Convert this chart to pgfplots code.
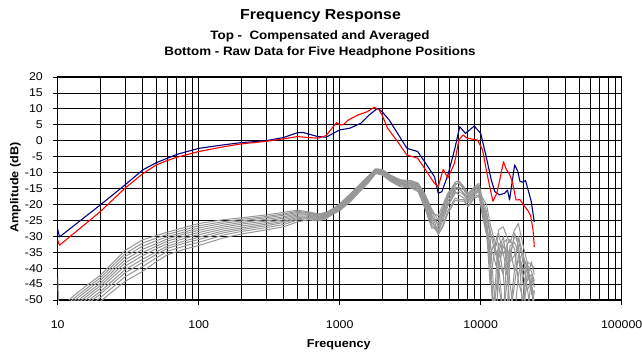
\documentclass[border=0pt]{standalone}
\usepackage{fontspec}
\setmainfont{Liberation Sans}[FakeStretch=1.1]
\usepackage{pgfplots}
\usepackage{pgfplotstable}
\pgfplotsset{compat=1.18}
\definecolor{navyline}{RGB}{0,0,128}
\definecolor{redline}{RGB}{255,0,0}
\definecolor{grayline}{RGB}{150,150,150}

\pgfplotstableread{
f c1 c2 c3 c4 c5 c6 c7 c8 c9 c10
10 nan nan nan nan nan nan nan nan nan -43
10.3 nan nan nan nan nan nan nan nan nan -57
12 -50 -50.8 -51.6 -52.4 -53.2 -54 -55 -55.8 -56.8 -58
14 -47.5 -48.4 -49.2 -50.1 -50.9 -51.8 -52.8 -53.6 -54.7 -56
16 -45.5 -46.4 -47.2 -48.1 -48.9 -49.8 -50.8 -51.6 -52.7 -54
18 -43.8 -44.6 -45.4 -46.3 -47.1 -47.9 -48.9 -49.7 -50.8 -52
20 -42.3 -43.1 -43.9 -44.8 -45.6 -46.4 -47.4 -48.2 -49.3 -50.5
25 -38 -38.9 -39.8 -40.7 -41.6 -42.5 -43.6 -44.5 -45.7 -47
30 -34.5 -35.5 -36.4 -37.4 -38.4 -39.4 -40.5 -41.5 -42.7 -44.2
40 -31.1 -32.1 -33.1 -34.1 -35.1 -36.1 -37.2 -38.2 -39.5 -41
50 -29.8 -30.6 -31.4 -32.3 -33.1 -33.9 -34.9 -35.7 -36.8 -38
60 -28.7 -29.4 -30.1 -30.8 -31.5 -32.3 -33.1 -33.8 -34.7 -35.8
80 -27.2 -27.9 -28.6 -29.2 -29.9 -30.6 -31.4 -32.1 -33 -34
100 -26 -26.7 -27.4 -28.1 -28.8 -29.5 -30.3 -31 -31.9 -32.9
150 -24.8 -25.4 -25.9 -26.5 -27.1 -27.7 -28.3 -28.9 -29.6 -30.5
200 -24.2 -24.7 -25.2 -25.7 -26.2 -26.8 -27.4 -27.9 -28.5 -29.3
300 -23.3 -23.8 -24.2 -24.7 -25.2 -25.7 -26.2 -26.7 -27.3 -28
400 -22.5 -23 -23.4 -23.9 -24.3 -24.8 -25.3 -25.7 -26.3 -27
500 -21.8 -22.2 -22.5 -22.9 -23.3 -23.7 -24.1 -24.5 -24.9 -25.5
600 -22.3 -22.6 -22.8 -23.1 -23.3 -23.6 -23.9 -24.1 -24.4 -24.8
700 -23 -23.2 -23.4 -23.7 -23.9 -24.1 -24.4 -24.6 -24.9 -25.2
800 -22.5 -22.7 -22.9 -23.1 -23.3 -23.5 -23.7 -23.9 -24.2 -24.5
900 -21.3 -21.5 -21.6 -21.8 -22 -22.2 -22.4 -22.5 -22.7 -23
1000 -19.8 -20 -20.2 -20.5 -20.7 -20.9 -21.2 -21.4 -21.7 -22
1200 -16.5 -16.8 -17 -17.3 -17.5 -17.8 -18.1 -18.3 -18.6 -19
1400 -13.5 -13.7 -14 -14.2 -14.4 -14.7 -14.9 -15.2 -15.5 -15.8
1600 -11 -11.2 -11.4 -11.7 -11.9 -12.1 -12.4 -12.6 -12.9 -13.2
1800 -8.8 -9 -9.1 -9.3 -9.4 -9.6 -9.7 -9.9 -10.1 -10.3
2000 -9 -9.2 -9.4 -9.5 -9.7 -9.9 -10.1 -10.3 -10.5 -10.8
2300 -10.8 -11 -11.2 -11.4 -11.6 -11.8 -12 -12.2 -12.5 -12.8
2700 -12.3 -12.5 -12.7 -13 -13.2 -13.4 -13.7 -13.9 -14.2 -14.5
3200 -12.5 -12.7 -13 -13.2 -13.4 -13.7 -13.9 -14.2 -14.5 -14.8
3600 -13.3 -13.6 -13.8 -14.1 -14.4 -14.7 -15 -15.2 -15.6 -16
4000 -16.5 -17 -17.4 -17.9 -18.3 -18.8 -19.3 -19.7 -20.3 -21
4500 -21.5 -22.1 -22.7 -23.3 -23.9 -24.5 -25.2 -25.8 -26.6 -27.5
5000 -25 -27 -23.5 -28.5 -26 -29.5 -24.5 -28 -29 -27
5400 -21 -23 -20 -25 -22 -27 -21.5 -24 -26.5 -23
5850 -17 -19 -16.5 -20.5 -18 -22.9 -17.5 -20 -22 -19
6600 -13 -15 -13.5 -16.5 -14.5 -18.7 -14 -16 -18 -15.5
7000 -12.6 -14.5 -13.5 -16 -15 -19 -13 -17 -18.5 -15
7600 -14.5 -15.5 -15 -17 -16.5 -19 -15 -18 -18.5 -16.5
8150 -16.5 -17.5 -17 -19 -18 -20.8 -17 -19.5 -20.5 -18.5
9000 -14.5 -15.5 -15 -16.5 -16 -18 -15 -17 -17.5 -16.5
9700 -13.4 -14.5 -14 -15.5 -15 -17.5 -14 -16 -17 -15.5
10200 -17.6 -18.2 -19 -19.5 -20 -20.5 -21 -21.5 -22.2 -22.9
11000 -20 -22 -25 -23 -27 -24 -28 -26 -29 -29.5
11650 -26 -30 -35 -28 -40 -29 -45 -33 -38 -36
12300 -30 -45 -55 -33 -55 -31 -37 -36 -50 -33
13000 -33 -55 -38 -37 -45 -36 -30 -40 -55 -35
13400 -28 -40 -32 -39 -35 -33 -29 -45 -37 -38
14450 -27 -33 -35 -55 -30 -42 -36 -55 -32 -42
15300 -30 -35 -42 -45 -38 -55 -33 -36 -31 -34
16140 -32 -55 -36 -33 -55 -37 -31 -34 -45 -38
17400 -28 -45 -30 -32 -40 -29 -34 -41 -55 -36
18500 -26 -36 -31 -35 -30 -33 -44 -38 -42 -33
20000 -33 -40 -38 -42 -36 -55 -50 -35 -37 -45
21330 -38 -44 -41 -47 -40 -43 -38 -46 -39 -55
22930 -39 -42 -46 -44 -48 -38 -46 -55 -41 -43
24000 -40 -45 -48 -55 -50 -42 -55 -47 -44 -46
}\graytable

\begin{document}
\begin{tikzpicture}
\useasboundingbox (-57.7bp,-56bp) rectangle (584.3bp,300bp);
\begin{axis}[
  at={(0,0)}, anchor=south west,
  scale only axis, width=564bp, height=223bp,
  xmode=log, xmin=10, xmax=100000, ymin=-50, ymax=20,
  xtick={10,100,1000,10000,100000},
  xticklabels={10,100,1000,10000,100000},
  minor xtick={20,30,40,50,60,70,80,90,200,300,400,500,600,700,800,900,2000,3000,4000,5000,6000,7000,8000,9000,20000,30000,40000,50000,60000,70000,80000,90000},
  ytick={-50,-45,...,20},
  grid=both,
  major grid style={black, line width=0.8bp},
  minor grid style={black, line width=0.8bp},
  axis line style={black, line width=1.3bp},
  tick align=outside, major tick length=5bp, minor tick length=0pt,
  tick style={black, line width=0.8bp},
  xtick pos=bottom, ytick pos=left,
  ticklabel style={font=\fontsize{11.3}{13}\selectfont},
  xticklabel style={anchor=base, inner sep=0pt, yshift=-23.3bp},
  yticklabel style={anchor=east, inner sep=0pt, xshift=-9.7bp},
  /pgf/number format/assume math mode=true,
  unbounded coords=jump,
  every axis plot/.append style={line join=round},
]
\addplot[grayline, line width=1bp] table[x=f, y=c1] {\graytable};
\addplot[grayline, line width=1bp] table[x=f, y=c2] {\graytable};
\addplot[grayline, line width=1bp] table[x=f, y=c3] {\graytable};
\addplot[grayline, line width=1bp] table[x=f, y=c4] {\graytable};
\addplot[grayline, line width=1bp] table[x=f, y=c5] {\graytable};
\addplot[grayline, line width=1bp] table[x=f, y=c6] {\graytable};
\addplot[grayline, line width=1bp] table[x=f, y=c7] {\graytable};
\addplot[grayline, line width=1bp] table[x=f, y=c8] {\graytable};
\addplot[grayline, line width=1bp] table[x=f, y=c9] {\graytable};
\addplot[grayline, line width=1bp] table[x=f, y=c10] {\graytable};

\addplot[navyline, line width=1.1bp] coordinates {
(10,-27.8) (10.3,-30.2) (20,-20.2) (30,-13.9) (40,-9.2) (50,-6.9) (60,-5.5) (70,-4.3)
(100,-2.4) (150,-1.3) (200,-0.6) (300,0) (400,1) (500,2.5) (550,2.6) (600,2.1)
(700,1.3) (800,1.1) (900,2.3) (1000,3.4) (1175,3.9) (1413,5.5) (1620,8.1) (1857,10.2)
(2000,9.1) (2245,6.5) (2575,2.3) (3000,-2.4) (3573,-3.4) (4000,-6.6) (4700,-11.3)
(5000,-16.5) (5300,-16) (5850,-10.8) (6520,-2.9) (7100,4.4) (7800,2.3) (9000,4.6)
(10000,2.3) (10940,-5) (11880,-12.3) (12600,-16) (13600,-17) (14760,-16.5) (15500,-15.5)
(16020,-18.6) (16700,-13) (17400,-7.6) (18300,-9.5) (19000,-12.8) (20000,-13)
(20800,-12.5) (21700,-15.5) (22800,-19) (24000,-25.5)
};
\addplot[redline, line width=1.1bp] coordinates {
(10,-31.2) (10.3,-32.8) (20,-22.3) (30,-14.9) (40,-10.4) (50,-7.6) (60,-6.2) (70,-5.2)
(100,-3.4) (150,-1.9) (200,-1.0) (300,-0.2) (400,0.6) (500,1.3) (600,1.0) (700,0.8)
(800,1.6) (900,4.4) (950,5.7) (1000,5.0) (1060,5.0) (1150,6.5) (1350,8.1) (1567,9.1)
(1757,10.5) (1900,9.7) (2000,8) (2188,3.9) (2575,-0.3) (3000,-4.5) (3573,-5.5)
(4000,-8.7) (4700,-13.4) (5000,-14.4) (5420,-9) (5850,-11.7) (6520,-7.1) (7000,0.2)
(7500,1.8) (8000,0.8) (9500,0.2) (10300,-2.9) (11200,-11.3) (12200,-19) (13000,-16.5)
(13700,-12) (14500,-6.6) (15200,-9) (16000,-10.5) (16800,-13) (17800,-18.6)
(19000,-18.5) (20000,-20) (21500,-21.8) (22600,-23.5) (23500,-28) (24000,-33.3)
};
\end{axis}
\node[font=\bfseries\fontsize{14.5}{16}\selectfont, anchor=base] at (262.8bp,280.7bp) {Frequency Response};
\node[font=\bfseries\fontsize{12.2}{13}\selectfont, anchor=base] at (262.3bp,260.7bp) {Top -\ \ Compensated and Averaged};
\node[font=\bfseries\fontsize{12.2}{13}\selectfont, anchor=base] at (262.3bp,244bp) {Bottom - Raw Data for Five Headphone Positions};
\node[font=\bfseries\fontsize{11.5}{13}\selectfont, anchor=base] at (281bp,-47.3bp) {Frequency};
\node[font=\bfseries\fontsize{11.5}{13}\selectfont, rotate=90] at (-42.4bp,112.5bp) {Amplitude (dB)};
\end{tikzpicture}
\end{document}
